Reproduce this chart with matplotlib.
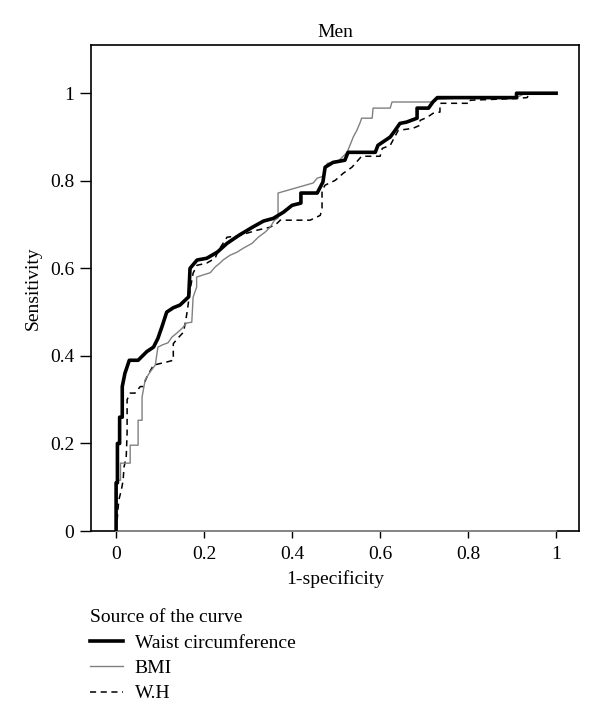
import matplotlib
matplotlib.use("Agg")
import matplotlib.pyplot as plt

plt.rcParams['font.family'] = ['Liberation Serif', 'DejaVu Serif']

# ROC curve vertices (1-specificity, sensitivity)
waist_x = [0, 0, 0.003, 0.003, 0.008, 0.008, 0.014, 0.014, 0.02, 0.03, 0.05, 0.07, 0.085, 0.095, 0.104,
           0.115, 0.13, 0.145, 0.165, 0.168, 0.184, 0.206, 0.23, 0.252, 0.28, 0.31, 0.335,
           0.357, 0.38, 0.40, 0.42, 0.42, 0.457, 0.47, 0.475, 0.493, 0.52, 0.527, 0.589,
           0.595, 0.623, 0.634, 0.645, 0.66, 0.684, 0.684, 0.71, 0.72, 0.73, 0.91, 0.91, 1.0]
waist_y = [0, 0.11, 0.11, 0.2, 0.2, 0.26, 0.26, 0.33, 0.36, 0.39, 0.39, 0.41, 0.42, 0.44, 0.466,
           0.50, 0.51, 0.516, 0.535, 0.60, 0.619, 0.623, 0.637, 0.657, 0.676, 0.694, 0.708,
           0.714, 0.728, 0.744, 0.749, 0.772, 0.772, 0.797, 0.831, 0.842, 0.847, 0.865, 0.865,
           0.881, 0.90, 0.915, 0.931, 0.934, 0.943, 0.966, 0.966, 0.98, 0.99, 0.99, 1.0, 1.0]

bmi_x = [0, 0.002, 0.01, 0.01, 0.032, 0.032, 0.05, 0.05, 0.059, 0.059, 0.066, 0.077, 0.089, 0.095,
         0.105, 0.118, 0.127, 0.138, 0.15, 0.16, 0.172, 0.175, 0.183, 0.183, 0.195, 0.214,
         0.225, 0.236, 0.243, 0.259, 0.275, 0.289, 0.309, 0.323, 0.339, 0.35, 0.36, 0.368,
         0.368, 0.448, 0.457, 0.47, 0.48, 0.502, 0.525, 0.539, 0.547, 0.555, 0.558, 0.582,
         0.584, 0.623, 0.627, 0.72, 0.73, 0.80, 0.91, 0.93, 1.0]
bmi_y = [0, 0.116, 0.116, 0.155, 0.155, 0.196, 0.196, 0.253, 0.253, 0.306, 0.345, 0.363, 0.379, 0.42,
         0.425, 0.43, 0.443, 0.452, 0.463, 0.475, 0.477, 0.534, 0.557, 0.58, 0.584, 0.59,
         0.603, 0.612, 0.619, 0.63, 0.637, 0.646, 0.657, 0.671, 0.683, 0.694, 0.71, 0.715,
         0.772, 0.795, 0.806, 0.81, 0.84, 0.842, 0.865, 0.90, 0.915, 0.934, 0.943, 0.943,
         0.966, 0.966, 0.98, 0.98, 0.986, 0.99, 0.99, 1.0, 1.0]

wh_x = [0, 0.002, 0.006, 0.012, 0.016, 0.018, 0.023, 0.025, 0.025, 0.032, 0.043, 0.055, 0.061,
        0.07, 0.085, 0.115, 0.13, 0.13, 0.14, 0.153, 0.157, 0.162, 0.168, 0.175, 0.184,
        0.206, 0.225, 0.232, 0.252, 0.28, 0.32, 0.35, 0.366, 0.373, 0.441, 0.464, 0.468,
        0.468, 0.475, 0.498, 0.516, 0.536, 0.55, 0.558, 0.60, 0.605, 0.623, 0.641, 0.675,
        0.691, 0.691, 0.707, 0.72, 0.736, 0.736, 0.805, 0.805, 0.91, 0.934, 0.94, 1.0]
wh_y = [0, 0.02, 0.07, 0.094, 0.116, 0.146, 0.169, 0.224, 0.30, 0.315, 0.315, 0.33, 0.33,
        0.352, 0.379, 0.386, 0.39, 0.428, 0.44, 0.454, 0.474, 0.504, 0.55, 0.589, 0.607,
        0.612, 0.623, 0.64, 0.671, 0.675, 0.687, 0.694, 0.703, 0.71, 0.71, 0.721, 0.737,
        0.778, 0.79, 0.801, 0.817, 0.831, 0.847, 0.856, 0.856, 0.874, 0.881, 0.915, 0.92,
        0.927, 0.938, 0.945, 0.954, 0.957, 0.977, 0.977, 0.984, 0.988, 0.99, 1.0, 1.0]

ticks = [0, 0.2, 0.4, 0.6, 0.8, 1]
tick_labels = ['0', '0.2', '0.4', '0.6', '0.8', '1']

fig = plt.figure(figsize=(6, 7.27), dpi=100)
ax = fig.add_axes([0.1517, 0.2696, 0.8133, 0.6684])

# reference line along the x axis
ax.plot([0, 1], [0, 0], color='#9a9a9a', lw=1.2, zorder=3, clip_on=False)

ax.plot(wh_x, wh_y, color='black', lw=1.1, ls=(0, (4, 3)), label='W.H', zorder=4)
ax.plot(bmi_x, bmi_y, color='#808080', lw=1.0, label='BMI', zorder=4)
ax.plot(waist_x, waist_y, color='black', lw=2.6, label='Waist circumference', zorder=5)

ax.set_xlim(-0.057, 1.052)
ax.set_ylim(0, 1.11)
ax.set_xticks(ticks)
ax.set_xticklabels(tick_labels)
ax.set_yticks(ticks)
ax.set_yticklabels(tick_labels)
ax.tick_params(axis='y', direction='out', length=8, width=1, labelsize=14, pad=4)
ax.tick_params(axis='x', direction='out', length=5, width=1, labelsize=14, pad=6)
for s in ax.spines.values():
    s.set_linewidth(1.2)

ax.set_title('Men', fontsize=14, pad=6)
ax.set_xlabel('1-specificity', fontsize=14, labelpad=5)
ax.set_ylabel('Sensitivity', fontsize=14, labelpad=6)

h, l = ax.get_legend_handles_labels()
order = [2, 1, 0]
leg = ax.legend([h[i] for i in order], [l[i] for i in order],
                title='Source of the curve', loc='upper left',
                bbox_to_anchor=(0.15, 0.162), bbox_transform=fig.transFigure,
                frameon=False, fontsize=14, title_fontsize=14,
                handlelength=1.7, handletextpad=0.6, labelspacing=0.4,
                borderpad=0, borderaxespad=0, alignment='left')

fig.savefig('out.png', dpi=100)
